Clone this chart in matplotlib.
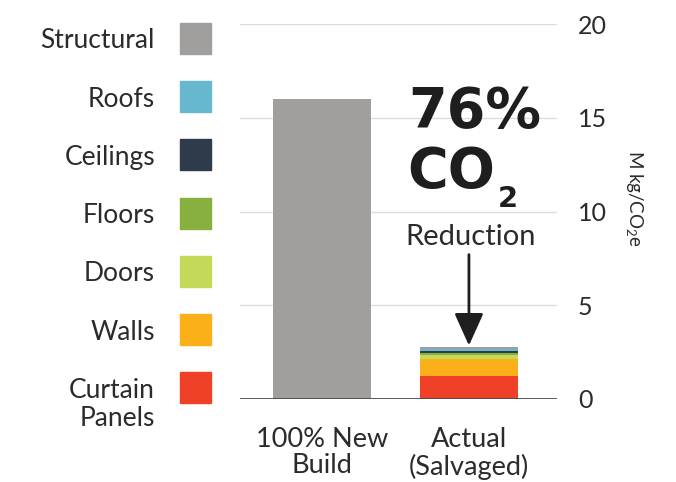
import matplotlib.pyplot as plt
from matplotlib.patches import Rectangle

# embodied carbon, M kg/CO2e
categories = ["Structural", "Roofs", "Ceilings", "Floors", "Doors", "Walls", "Curtain\nPanels"]
colors = ["#a09f9d", "#67b8ce", "#2f3a4b", "#88b03e", "#c5d958", "#fbb019", "#ee4128"]
scenarios = ["100% New\nBuild", "Actual\n(Salvaged)"]
new_build = [16.0, 0, 0, 0, 0, 0, 0]
actual = [0.10, 0.10, 0.07, 0.14, 0.21, 0.89, 1.24]
yticks = [0, 5, 10, 15, 20]

plt.rcParams['font.family'] = ['Lato', 'DejaVu Sans']
plt.rcParams['mathtext.fontset'] = 'custom'
plt.rcParams['mathtext.rm'] = 'Lato'
plt.rcParams['mathtext.it'] = 'Lato'
txt = "#2b2b2b"
dark = "#1e1e1e"

fig = plt.figure(figsize=(6.76, 4.82), dpi=100)
ax = fig.add_axes([240 / 676, 1 - 399 / 482, 317 / 676, 375 / 482])

# stack from the bottom up: curtain panels first
for col, vals in enumerate([new_build, actual]):
    bottom = 0
    for i in reversed(range(len(categories))):
        if vals[i] > 0:
            ax.bar(col, vals[i], bottom=bottom, width=0.67, color=colors[i], zorder=2)
            bottom += vals[i]

ax.set_xlim(-0.56, 1.6)
ax.set_ylim(0, 20)
ax.set_yticks(yticks)
ax.yaxis.tick_right()
ax.tick_params(axis='y', length=0, pad=15, labelsize=18, labelcolor=txt)
ax.set_xticks([0, 1])
ax.set_xticklabels(scenarios, fontsize=19.5, color=txt, linespacing=1.08)
ax.tick_params(axis='x', length=0, pad=20)
ax.grid(axis='y', color="#dcdcdc", lw=1, zorder=0)
for s in ax.spines.values():
    s.set_visible(False)
ax.axhline(0, color="#4a4a4a", lw=2, zorder=3)

fig.text(635 / 676, 1 - 198 / 482, r"M kg/CO$_2$e", rotation=270, fontsize=13.5,
         color=txt, ha='center', va='center')

# callout
ax.text(1.04, 14.5, "76%", fontsize=40, fontweight='bold', color=dark, ha='center',
        family='DejaVu Sans')
co = ax.text(0.58, 11.3, "CO", fontsize=40, fontweight='bold', color=dark, ha='left',
             family='DejaVu Sans')
ax.annotate("2", xy=(1, 0), xycoords=co, xytext=(2, -6), textcoords='offset points',
            fontsize=21, fontweight='bold', color=dark, ha='left', va='baseline',
            family='DejaVu Sans')
ax.text(1.01, 8.21, "Reduction", fontsize=21, color=txt, ha='center')
ax.annotate("", xy=(1.0, sum(actual) + 0.1), xytext=(1.0, 7.7),
            arrowprops=dict(arrowstyle='-|>,head_length=1.0,head_width=0.45',
                            color=dark, lw=2, mutation_scale=20, shrinkA=0, shrinkB=0))

# legend on the left, labels right-aligned against the swatches
for i, (name, c) in enumerate(zip(categories, colors)):
    top = 23 + i * 58.2
    fig.add_artist(Rectangle((180 / 676, 1 - (top + 31) / 482), 31 / 676, 31 / 482,
                             transform=fig.transFigure, color=c))
    for j, line in enumerate(name.split("\n")):
        fig.text(155 / 676, 1 - (top + 15.5 + j * 28) / 482, line, ha='right',
                 va='center_baseline', fontsize=19, color=txt)

fig.savefig("out.png", dpi=100)
